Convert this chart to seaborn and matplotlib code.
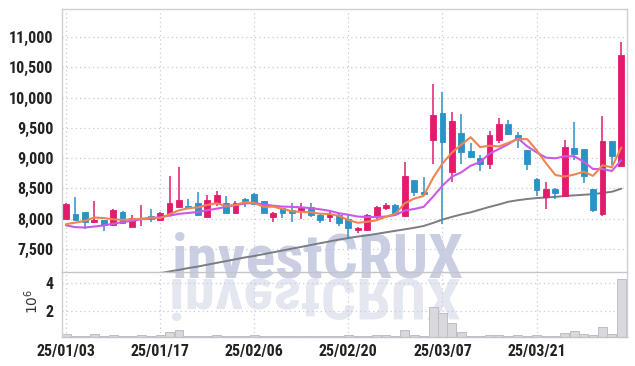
import numpy as np
import matplotlib
matplotlib.use("Agg")
import matplotlib.pyplot as plt
import seaborn as sns
from matplotlib import font_manager as fm
from matplotlib.textpath import TextPath
from matplotlib.patches import PathPatch
from matplotlib.font_manager import FontProperties
from matplotlib.transforms import Affine2D, IdentityTransform

# trading days (yy/mm/dd)
dates = ["25/01/03", "25/01/06", "25/01/07", "25/01/08", "25/01/09", "25/01/10",
         "25/01/13", "25/01/14", "25/01/15", "25/01/16", "25/01/17",
         "25/01/20", "25/01/21", "25/01/22", "25/01/23", "25/01/24", "25/01/31",
         "25/02/03", "25/02/04", "25/02/05", "25/02/06", "25/02/07",
         "25/02/10", "25/02/11", "25/02/12", "25/02/13", "25/02/14",
         "25/02/17", "25/02/18", "25/02/19", "25/02/20", "25/02/21",
         "25/02/24", "25/02/25", "25/02/26", "25/02/27", "25/02/28",
         "25/03/04", "25/03/05", "25/03/06", "25/03/07",
         "25/03/10", "25/03/11", "25/03/12", "25/03/13", "25/03/14",
         "25/03/17", "25/03/18", "25/03/19", "25/03/20", "25/03/21",
         "25/03/24", "25/03/25", "25/03/26", "25/03/27", "25/03/28",
         "25/03/31", "25/04/01", "25/04/02", "25/04/03"]

opens = [8000, 8085, 8110, 7946, 7979, 7900, 8113, 7868, 8000, 8045,
         7979, 8078, 8200, 8212, 8264, 8033, 8264, 8254, 8089, 8320,
         8408, 8286, 8033, 8177, 8144, 8133, 8188, 8067, 8033, 8067,
         7995, 7809, 7809, 8040, 8182, 8226, 8050, 8634, 8446, 9305,
         9745, 8776, 9415, 9118, 8997, 8898, 9305, 9558, 9382, 9129,
         8656, 8358, 8490, 8369, 9162, 9151, 8490, 8083, 9283, 8875]
highs = [8260, 8350, 8115, 8297, 7985, 8160, 8120, 8060, 8230, 8160,
         8110, 8705, 8849, 8320, 8441, 8391, 8452, 8375, 8290, 8340,
         8420, 8290, 8117, 8180, 8264, 8264, 8254, 8100, 8117, 8070,
         8060, 7870, 8080, 8210, 8265, 8240, 8931, 8640, 8688, 10219,
         10087, 9767, 9723, 9244, 9050, 9455, 9657, 9635, 9426, 9135,
         8680, 8600, 8510, 9305, 9602, 9155, 8495, 9690, 9290, 10913]
lows = [7990, 7975, 7830, 7930, 7800, 7880, 7935, 7860, 7880, 7945,
        7960, 8040, 8180, 8170, 8040, 8033, 8210, 8089, 8080, 8200,
        8243, 8089, 7946, 8006, 7951, 7990, 8020, 7930, 7946, 7880,
        7665, 7770, 7800, 8000, 8140, 8060, 8020, 8380, 8400, 8898,
        7908, 8611, 8898, 9000, 8788, 8820, 9250, 9380, 9162, 8810,
        8380, 8160, 8325, 8360, 8975, 8590, 8106, 8050, 8880, 8870]
closes = [8245, 7985, 7946, 7979, 7900, 8144, 7937, 8010, 8012, 7995,
          8100, 8264, 8309, 8190, 8060, 8309, 8397, 8089, 8264, 8297,
          8243, 8089, 8100, 8089, 8089, 8188, 8067, 7979, 8067, 7934,
          7842, 7842, 8061, 8193, 8226, 8083, 8710, 8446, 8413, 9712,
          9272, 9613, 9107, 9019, 8898, 9382, 9558, 9404, 9316, 8909,
          8468, 8490, 8424, 9184, 9074, 8710, 8149, 9283, 9030, 10703]

# moving averages
ma_short = [7910, 7935, 7965, 8020, 8010, 7990, 7981, 7991, 7998, 8018,
            8009, 8075, 8137, 8173, 8187, 8228, 8255, 8211, 8226, 8271,
            8258, 8196, 8199, 8164, 8122, 8111, 8107, 8082, 8078, 8047,
            7978, 7933, 7949, 7974, 8033, 8081, 8255, 8332, 8376, 8673,
            8911, 9091, 9223, 9345, 9182, 9204, 9193, 9252, 9312, 9314,
            9131, 8917, 8721, 8695, 8728, 8776, 8708, 8880, 8849, 9175]
ma_mid = [7890, 7860, 7855, 7870, 7890, 7915, 7945, 7965, 7990, 8005,
          8025, 8050, 8080, 8095, 8110, 8140, 8165, 8195, 8225, 8250,
          8260, 8235, 8215, 8200, 8195, 8188, 8175, 8155, 8130, 8090,
          8065, 8035, 8028, 8028, 8035, 8060, 8135, 8160, 8195, 8364,
          8545, 8694, 8765, 8875, 8936, 9074, 9150, 9230, 9330, 9195,
          9096, 9008, 8997, 9030, 9030, 8942, 8820, 8820, 8788, 8964]
ma_long = [np.nan] * 8 + [
          7040, 7070, 7100, 7130, 7155, 7185, 7210, 7240, 7270, 7300,
          7330, 7360, 7385, 7415, 7445, 7475, 7505, 7535, 7565, 7595,
          7625, 7655, 7680, 7705, 7725, 7750, 7775, 7800, 7825, 7850,
          7880, 7930, 7985, 8030, 8070, 8105, 8150, 8195, 8235, 8280,
          8305, 8325, 8340, 8350, 8360, 8375, 8385, 8395, 8405, 8425,
          8445, 8495]

# volume in units of 10^6 shares
volume = [0.35, 0.20, 0.22, 0.30, 0.20, 0.25, 0.18, 0.18, 0.25, 0.22,
          0.28, 0.50, 0.60, 0.22, 0.20, 0.22, 0.25, 0.20, 0.20, 0.18,
          0.25, 0.20, 0.20, 0.18, 0.18, 0.18, 0.18, 0.20, 0.20, 0.22,
          0.28, 0.20, 0.22, 0.25, 0.25, 0.22, 0.62, 0.29, 0.20, 2.24,
          1.84, 1.12, 0.48, 0.20, 0.20, 0.26, 0.26, 0.22, 0.24, 0.20,
          0.26, 0.22, 0.20, 0.38, 0.52, 0.30, 0.28, 0.81, 0.35, 4.29]

price_ticks = [7500, 8000, 8500, 9000, 9500, 10000, 10500, 11000]
vol_ticks = [2, 4]
date_tick_step = 10
watermark = "investCRUX"

UP = "#e31b6d"
DOWN = "#2b92c6"
GRID = "#c6cadd"
SPINE = "#cfd0d6"

sns.set_theme(style="white")
plt.rcParams["font.family"] = ["DejaVu Sans"]


def pick_narrow_font(target_weight=650):
    # look for an installed narrow / condensed face
    prefs = ["Liberation Sans Narrow", "Roboto Condensed", "Open Sans Condensed",
             "Noto Sans", "DejaVu Sans"]
    found = []
    for f in fm.fontManager.ttflist:
        narrow = ("Narrow" in f.name or "Condensed" in f.name
                  or f.stretch in ("condensed", "semi-condensed", 300)
                  or "Condensed" in f.fname or "Narrow" in f.fname)
        if not narrow or "Extra" in f.fname or "Ultra" in f.fname:
            continue
        if "Italic" in f.fname or "Oblique" in f.fname or f.style != "normal":
            continue
        w = f.weight if isinstance(f.weight, int) else {"bold": 700, "semibold": 600,
                                                         "medium": 500}.get(f.weight, 400)
        rank = next((i for i, p in enumerate(prefs) if p in f.name), len(prefs))
        found.append((rank, abs(w - target_weight), f.fname))
    if not found:
        return None
    found.sort()
    return found[0][2]


narrow_file = pick_narrow_font()
heavy_file = pick_narrow_font(900)
if narrow_file:
    tick_fp = FontProperties(fname=narrow_file, size=11.5)
else:
    tick_fp = FontProperties(family="DejaVu Sans", weight="bold", size=8.5)
if heavy_file:
    wm_fp = FontProperties(fname=heavy_file)
else:
    wm_fp = FontProperties(family="DejaVu Sans", weight="bold")

W, H = 635, 366
fig = plt.figure(figsize=(W / 100, H / 100), dpi=100)
fig.patch.set_facecolor("white")
ax = fig.add_axes([62 / W, 1 - 272 / H, 565 / W, 263 / H])
axv = fig.add_axes([62 / W, 1 - 337 / H, 565 / W, 65 / H], sharex=ax)
for a in (ax, axv):
    a.set_facecolor("none")

# watermark: real text plus a mirrored reflection below it
tp = TextPath((0, 0), watermark, size=100, prop=wm_fp)
bb = tp.get_extents()
wm_scale = 288 / bb.width
wm_size = 100 * wm_scale * 72 / 100
fig.text(172 / W, 1 - 277 / H, watermark, fontproperties=wm_fp, fontsize=wm_size,
         color="#c9cee2", ha="left", va="baseline", zorder=-2)
sy = 42 / bb.ymax
dn_tr = Affine2D().translate(-bb.xmin, 0).scale(wm_scale, -sy).translate(172, H - 279)
fig.add_artist(PathPatch(dn_tr.transform_path(tp), facecolor="#e5e7f0",
                         edgecolor="none", transform=IdentityTransform(), zorder=-2))

x = np.arange(len(dates))
o = np.array(opens)
c = np.array(closes)
colors = [UP if cc >= oo else DOWN for oo, cc in zip(o, c)]

# candles
ax.vlines(x, lows, highs, colors=colors, lw=1.1, zorder=3)
body_lo = np.minimum(o, c)
body_h = np.maximum(np.abs(c - o), 12)
ax.bar(x, body_h, bottom=body_lo, width=0.62, color=colors, edgecolor=colors,
       lw=0.6, zorder=4)

# moving averages
sns.lineplot(x=x, y=ma_long, ax=ax, color="#7c7c84", lw=1.4, zorder=2)
sns.lineplot(x=x, y=ma_mid, ax=ax, color="#c95ae9", lw=1.5, zorder=5)
sns.lineplot(x=x, y=ma_short, ax=ax, color="#ef8450", lw=1.5, zorder=5)

ax.set_xlim(-0.43, 59.61)
ax.set_ylim(7120, 11462)
ax.set_yticks(price_ticks)
ax.set_yticklabels([f"{v:,}" for v in price_ticks], fontproperties=tick_fp, color="#222222")
ax.grid(True, linestyle=(0, (1, 2.5)), color=GRID, lw=0.9)
ax.tick_params(axis="x", labelbottom=False, length=0)
ax.tick_params(axis="y", length=0, pad=6)
for s in ax.spines.values():
    s.set_color(SPINE)
    s.set_linewidth(1)
ax.spines["bottom"].set_color("#c4c4c8")

# volume
axv.bar(x, volume, width=0.95, color="#d8d8dd", edgecolor="#bdbdc4", lw=0.7, zorder=2)
axv.set_ylim(0.12, 4.76)
axv.set_yticks(vol_ticks)
axv.set_yticklabels([str(v) for v in vol_ticks], fontproperties=tick_fp, color="#222222")
axv.set_xticks(x[::date_tick_step])
axv.set_xticklabels(dates[::date_tick_step], fontproperties=tick_fp, color="#222222")
axv.grid(True, linestyle=(0, (1, 2.5)), color=GRID, lw=0.9)
axv.tick_params(length=0)
axv.tick_params(axis="y", pad=6)
axv.tick_params(axis="x", pad=5)
axv.set_ylabel(r"$10^6$", fontsize=10, color="#333333")
axv.yaxis.set_label_coords(-0.038, 0.55)
axv.set_xlabel("")
for s in axv.spines.values():
    s.set_color(SPINE)
    s.set_linewidth(1)
axv.spines["top"].set_visible(False)
axv.spines["bottom"].set_color("#c4c4c8")

fig.savefig("out.png", dpi=100)
